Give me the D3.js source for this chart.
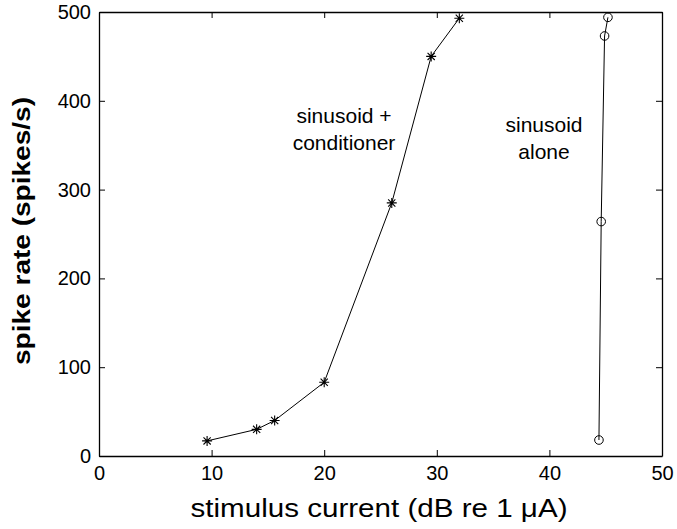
<!DOCTYPE html>
<html>
<head>
<meta charset="utf-8">
<script src="https://cdn.jsdelivr.net/npm/d3@7"></script>
<style>
  html, body { margin: 0; padding: 0; background: #fff; }
  svg { display: block; font-family: "Liberation Sans", Arial, Helvetica, sans-serif; }
</style>
</head>
<body>
<svg id="chart" width="677" height="529"></svg>
<script>
// Data
const condX = [9.6, 14.0, 15.6, 20.0, 26.0, 29.5, 32.0];
const condY = [17, 30, 40, 83, 285, 450, 493];
const aloneX = [44.4, 44.6, 44.9, 45.2];
const aloneY = [18, 264, 473, 494];
const xTicks = [0, 10, 20, 30, 40, 50];
const yTicks = [0, 100, 200, 300, 400, 500];
const xLabel = "stimulus current (dB re 1 \u03BCA)";
const yLabel = "spike rate (spikes/s)";
const condLabel = ["sinusoid +", "conditioner"];
const aloneLabel = ["sinusoid", "alone"];

const svg = d3.select("#chart");
const L = 99, R = 662, T = 12, B = 456;
const x = d3.scaleLinear().domain([0, 50]).range([L, R]);
const y = d3.scaleLinear().domain([0, 500]).range([B, T]);
const tickLen = 6;

// axes box with inward ticks
const axB = d3.axisBottom(x).tickValues(xTicks).tickSizeInner(-tickLen).tickSizeOuter(0).tickPadding(10);
const axT = d3.axisTop(x).tickValues(xTicks).tickSizeInner(-tickLen).tickSizeOuter(0).tickFormat("");
const axL = d3.axisLeft(y).tickValues(yTicks).tickSizeInner(-tickLen).tickSizeOuter(0).tickPadding(8);
const axR = d3.axisRight(y).tickValues(yTicks).tickSizeInner(-tickLen).tickSizeOuter(0).tickFormat("");

function styleAxis(g) {
  g.select(".domain").attr("stroke", "#000").attr("stroke-width", 1.3);
  g.selectAll(".tick line").attr("stroke", "#000").attr("stroke-width", 1);
  g.selectAll(".tick text").attr("fill", "#000").style("font-size", "20px")
    .style("font-family", "'Liberation Sans', Arial, sans-serif");
}
svg.append("g").attr("transform", `translate(0,${B})`).call(axB).call(styleAxis);
svg.append("g").attr("transform", `translate(0,${T})`).call(axT).call(styleAxis);
svg.append("g").attr("transform", `translate(${L},0)`).call(axL).call(styleAxis);
svg.append("g").attr("transform", `translate(${R},0)`).call(axR).call(styleAxis);

// lines
const line = d3.line().x(d => x(d[0])).y(d => y(d[1]));
const condPts = condX.map((v, i) => [v, condY[i]]);
const alonePts = aloneX.map((v, i) => [v, aloneY[i]]);
svg.append("path").datum(condPts).attr("d", line)
  .attr("fill", "none").attr("stroke", "#000").attr("stroke-width", 1);
svg.append("path").datum(alonePts).attr("d", line)
  .attr("fill", "none").attr("stroke", "#000").attr("stroke-width", 1);

// asterisk markers
const s = 5;
const k = s * 0.72;
const star = `M${-s},0L${s},0M0,${-s}L0,${s}M${-k},${-k}L${k},${k}M${-k},${k}L${k},${-k}`;
svg.selectAll(".star").data(condPts).enter().append("path")
  .attr("class", "star")
  .attr("transform", d => `translate(${x(d[0])},${y(d[1])})`)
  .attr("d", star).attr("stroke", "#000").attr("stroke-width", 1.1).attr("fill", "none");

// circle markers
svg.selectAll(".circ").data(alonePts).enter().append("circle")
  .attr("class", "circ")
  .attr("cx", d => x(d[0])).attr("cy", d => y(d[1])).attr("r", 4.3)
  .attr("fill", "none").attr("stroke", "#000").attr("stroke-width", 1);

// annotations
const ann = svg.append("g").style("font-size", "21px").attr("text-anchor", "middle").attr("fill", "#000");
condLabel.forEach((t, i) => ann.append("text").attr("x", 344).attr("y", 123 + i * 27).text(t));
aloneLabel.forEach((t, i) => ann.append("text").attr("x", 544).attr("y", 132 + i * 27).text(t));

// axis labels
svg.append("text").attr("x", 379).attr("y", 517).attr("text-anchor", "middle")
  .attr("textLength", 377).attr("lengthAdjust", "spacingAndGlyphs")
  .style("font-size", "25px").attr("fill", "#000").text(xLabel);
svg.append("text").attr("transform", "translate(30,231) rotate(-90)").attr("text-anchor", "middle")
  .attr("textLength", 268).attr("lengthAdjust", "spacingAndGlyphs")
  .style("font-size", "24px").style("font-weight", "bold").attr("fill", "#000").text(yLabel);
</script>
</body>
</html>
